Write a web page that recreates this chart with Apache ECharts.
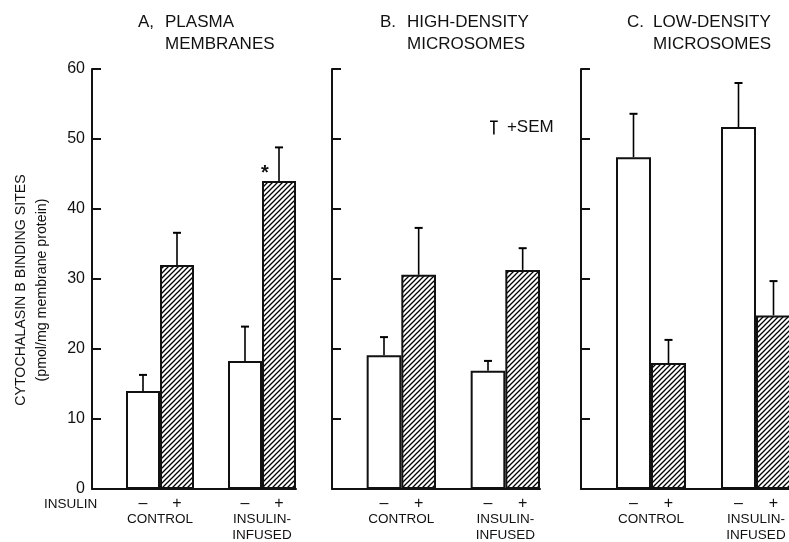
<!DOCTYPE html>
<html>
<head>
<meta charset="utf-8">
<script src="https://cdn.jsdelivr.net/npm/echarts@6/dist/echarts.min.js"></script>
<style>
  html, body { margin: 0; padding: 0; background: #fff; }
  #chart { width: 789px; height: 542px; }
</style>
</head>
<body>
<div id="chart"></div>
<script>
// slots on each x axis: empty, -, +, empty, -, +
var slotLabels = ["", "\u2013", "+", "", "\u2013", "+"];
var barSlots = [1, 2, 4, 5];
var insulinSign = ["-", "+", "-", "+"];
var groupLabels = { 2: "CONTROL", 5: "INSULIN-\nINFUSED" };
var yTicks = [0, 10, 20, 30, 40, 50, 60];

var panelTitles = ["PLASMA\nMEMBRANES", "HIGH-DENSITY\nMICROSOMES", "LOW-DENSITY\nMICROSOMES"];
var panelLetters = ["A,", "B.", "C."];

// binding sites, pmol/mg membrane protein
var meansA = [14.0, 32.0, 18.3, 44.0];
var semA = [2.3, 4.6, 4.9, 4.8];
var starsA = ["", "", "", "*"];

var meansB = [19.1, 30.6, 16.9, 31.3];
var semB = [2.6, 6.7, 1.4, 3.1];

var meansC = [47.4, 18.0, 51.7, 24.8];
var semC = [6.2, 3.3, 6.3, 4.9];

var font = "'Liberation Sans', Arial, sans-serif";
var ink = "#111";

function hatchCanvas() {
  var c = document.createElement("canvas");
  c.width = 5; c.height = 5;
  var ctx = c.getContext("2d");
  ctx.fillStyle = "#fff";
  ctx.fillRect(0, 0, 5, 5);
  ctx.strokeStyle = "#000";
  ctx.lineWidth = 1.3;
  ctx.beginPath();
  ctx.moveTo(0, 5); ctx.lineTo(5, 0);
  ctx.moveTo(-1, 1); ctx.lineTo(1, -1);
  ctx.moveTo(4, 6); ctx.lineTo(6, 4);
  ctx.stroke();
  return c;
}
var hatch = { image: hatchCanvas(), repeat: "repeat" };

var grids = [
  { left: 92, top: 69, width: 204, height: 420, outerBoundsMode: "none" },
  { left: 332, top: 69, width: 208, height: 420, outerBoundsMode: "none" },
  { left: 581, top: 69, width: 210, height: 420, outerBoundsMode: "none" }
];

var panels = [
  { means: meansA, sem: semA, stars: starsA },
  { means: meansB, sem: semB, stars: null },
  { means: meansC, sem: semC, stars: null }
];

var xAxes = [], yAxes = [], series = [], titles = [];

panels.forEach(function (p, g) {
  xAxes.push({
    type: "category", gridIndex: g, data: slotLabels, position: "bottom",
    axisLine: { lineStyle: { color: ink, width: 2 } },
    axisTick: { show: false },
    axisLabel: { interval: 0, margin: 7, color: ink, fontSize: 16, fontFamily: font }
  });
  xAxes.push({
    type: "value", gridIndex: g, min: 0, max: 6, interval: 1, position: "bottom",
    axisLine: { show: false }, axisTick: { show: false }, splitLine: { show: false },
    axisLabel: {
      margin: 22, color: ink, fontSize: 13.5, lineHeight: 16, fontFamily: font,
      showMinLabel: true, showMaxLabel: true,
      formatter: function (v) { return groupLabels[v] || ""; }
    }
  });

  var y = {
    type: "value", gridIndex: g, min: yTicks[0], max: yTicks[yTicks.length - 1], interval: 10,
    axisLine: { show: true, lineStyle: { color: ink, width: 2 } },
    axisTick: { show: true, inside: true, length: 9, lineStyle: { color: ink, width: 2 } },
    splitLine: { show: false },
    axisLabel: { show: g === 0, margin: 7, color: ink, fontSize: 16, fontFamily: font }
  };
  if (g === 0) {
    y.name = "CYTOCHALASIN B BINDING SITES\n(pmol/mg membrane protein)";
    y.nameLocation = "middle";
    y.nameGap = 39;
    y.nameTextStyle = { color: ink, fontSize: 14.2, lineHeight: 21, fontFamily: font, padding: [0, 22, 0, 0] };
  }
  yAxes.push(y);

  var barData = slotLabels.map(function () { return "-"; });
  var errData = [];
  barSlots.forEach(function (slot, i) {
    var item = {
      value: p.means[i],
      itemStyle: {
        color: insulinSign[i] === "+" ? hatch : "#fff",
        borderColor: ink, borderWidth: 2
      }
    };
    if (p.stars && p.stars[i]) {
      item.label = {
        show: true, position: "top", formatter: p.stars[i], offset: [-14, 7],
        fontSize: 20, fontWeight: "bold", color: ink, fontFamily: font
      };
    }
    barData[slot] = item;
    errData.push([slot, p.means[i], p.means[i] + p.sem[i]]);
  });

  series.push({
    type: "bar", xAxisIndex: g * 2, yAxisIndex: g, barWidth: "100%",
    data: barData, silent: true, z: 2
  });
  series.push({
    name: "+SEM", type: "custom", xAxisIndex: g * 2, yAxisIndex: g, z: 3,
    itemStyle: { color: "#000" },
    data: errData,
    renderItem: function (params, api) {
      var base = api.coord([api.value(0), api.value(1)]);
      var top = api.coord([api.value(0), api.value(2)]);
      return {
        type: "group",
        children: [
          { type: "line", shape: { x1: base[0], y1: base[1], x2: top[0], y2: top[1] },
            style: { stroke: "#000", lineWidth: 1.6 } },
          { type: "line", shape: { x1: top[0] - 4, y1: top[1], x2: top[0] + 4, y2: top[1] },
            style: { stroke: "#000", lineWidth: 2 } }
        ]
      };
    }
  });
});

var letterLeft = [138, 380, 627];
var titleLeft = [165, 407, 653];
panels.forEach(function (p, g) {
  titles.push({ text: panelLetters[g], left: letterLeft[g], top: 11, padding: 0,
    textStyle: { color: ink, fontSize: 17, fontWeight: "normal", lineHeight: 22, fontFamily: font } });
  titles.push({ text: panelTitles[g], left: titleLeft[g], top: 11, padding: 0,
    textStyle: { color: ink, fontSize: 17, fontWeight: "normal", lineHeight: 22, fontFamily: font } });
});

var chart = echarts.init(document.getElementById("chart"));
chart.setOption({
  animation: false,
  backgroundColor: "#fff",
  title: titles,
  grid: grids,
  xAxis: xAxes,
  yAxis: yAxes,
  legend: {
    data: [{ name: "+SEM", icon: "path://M0,0H10V2H6V18H4V2H0Z" }],
    left: 485, top: 114, itemWidth: 8, itemHeight: 14, selectedMode: false,
    textStyle: { color: ink, fontSize: 17, fontFamily: font, padding: [0, 0, 0, 4] }
  },
  graphic: [
    { type: "text", left: 44, top: 497,
      style: { text: "INSULIN", fill: ink, fontSize: 13.5, fontFamily: font } }
  ],
  series: series
});
</script>
</body>
</html>
